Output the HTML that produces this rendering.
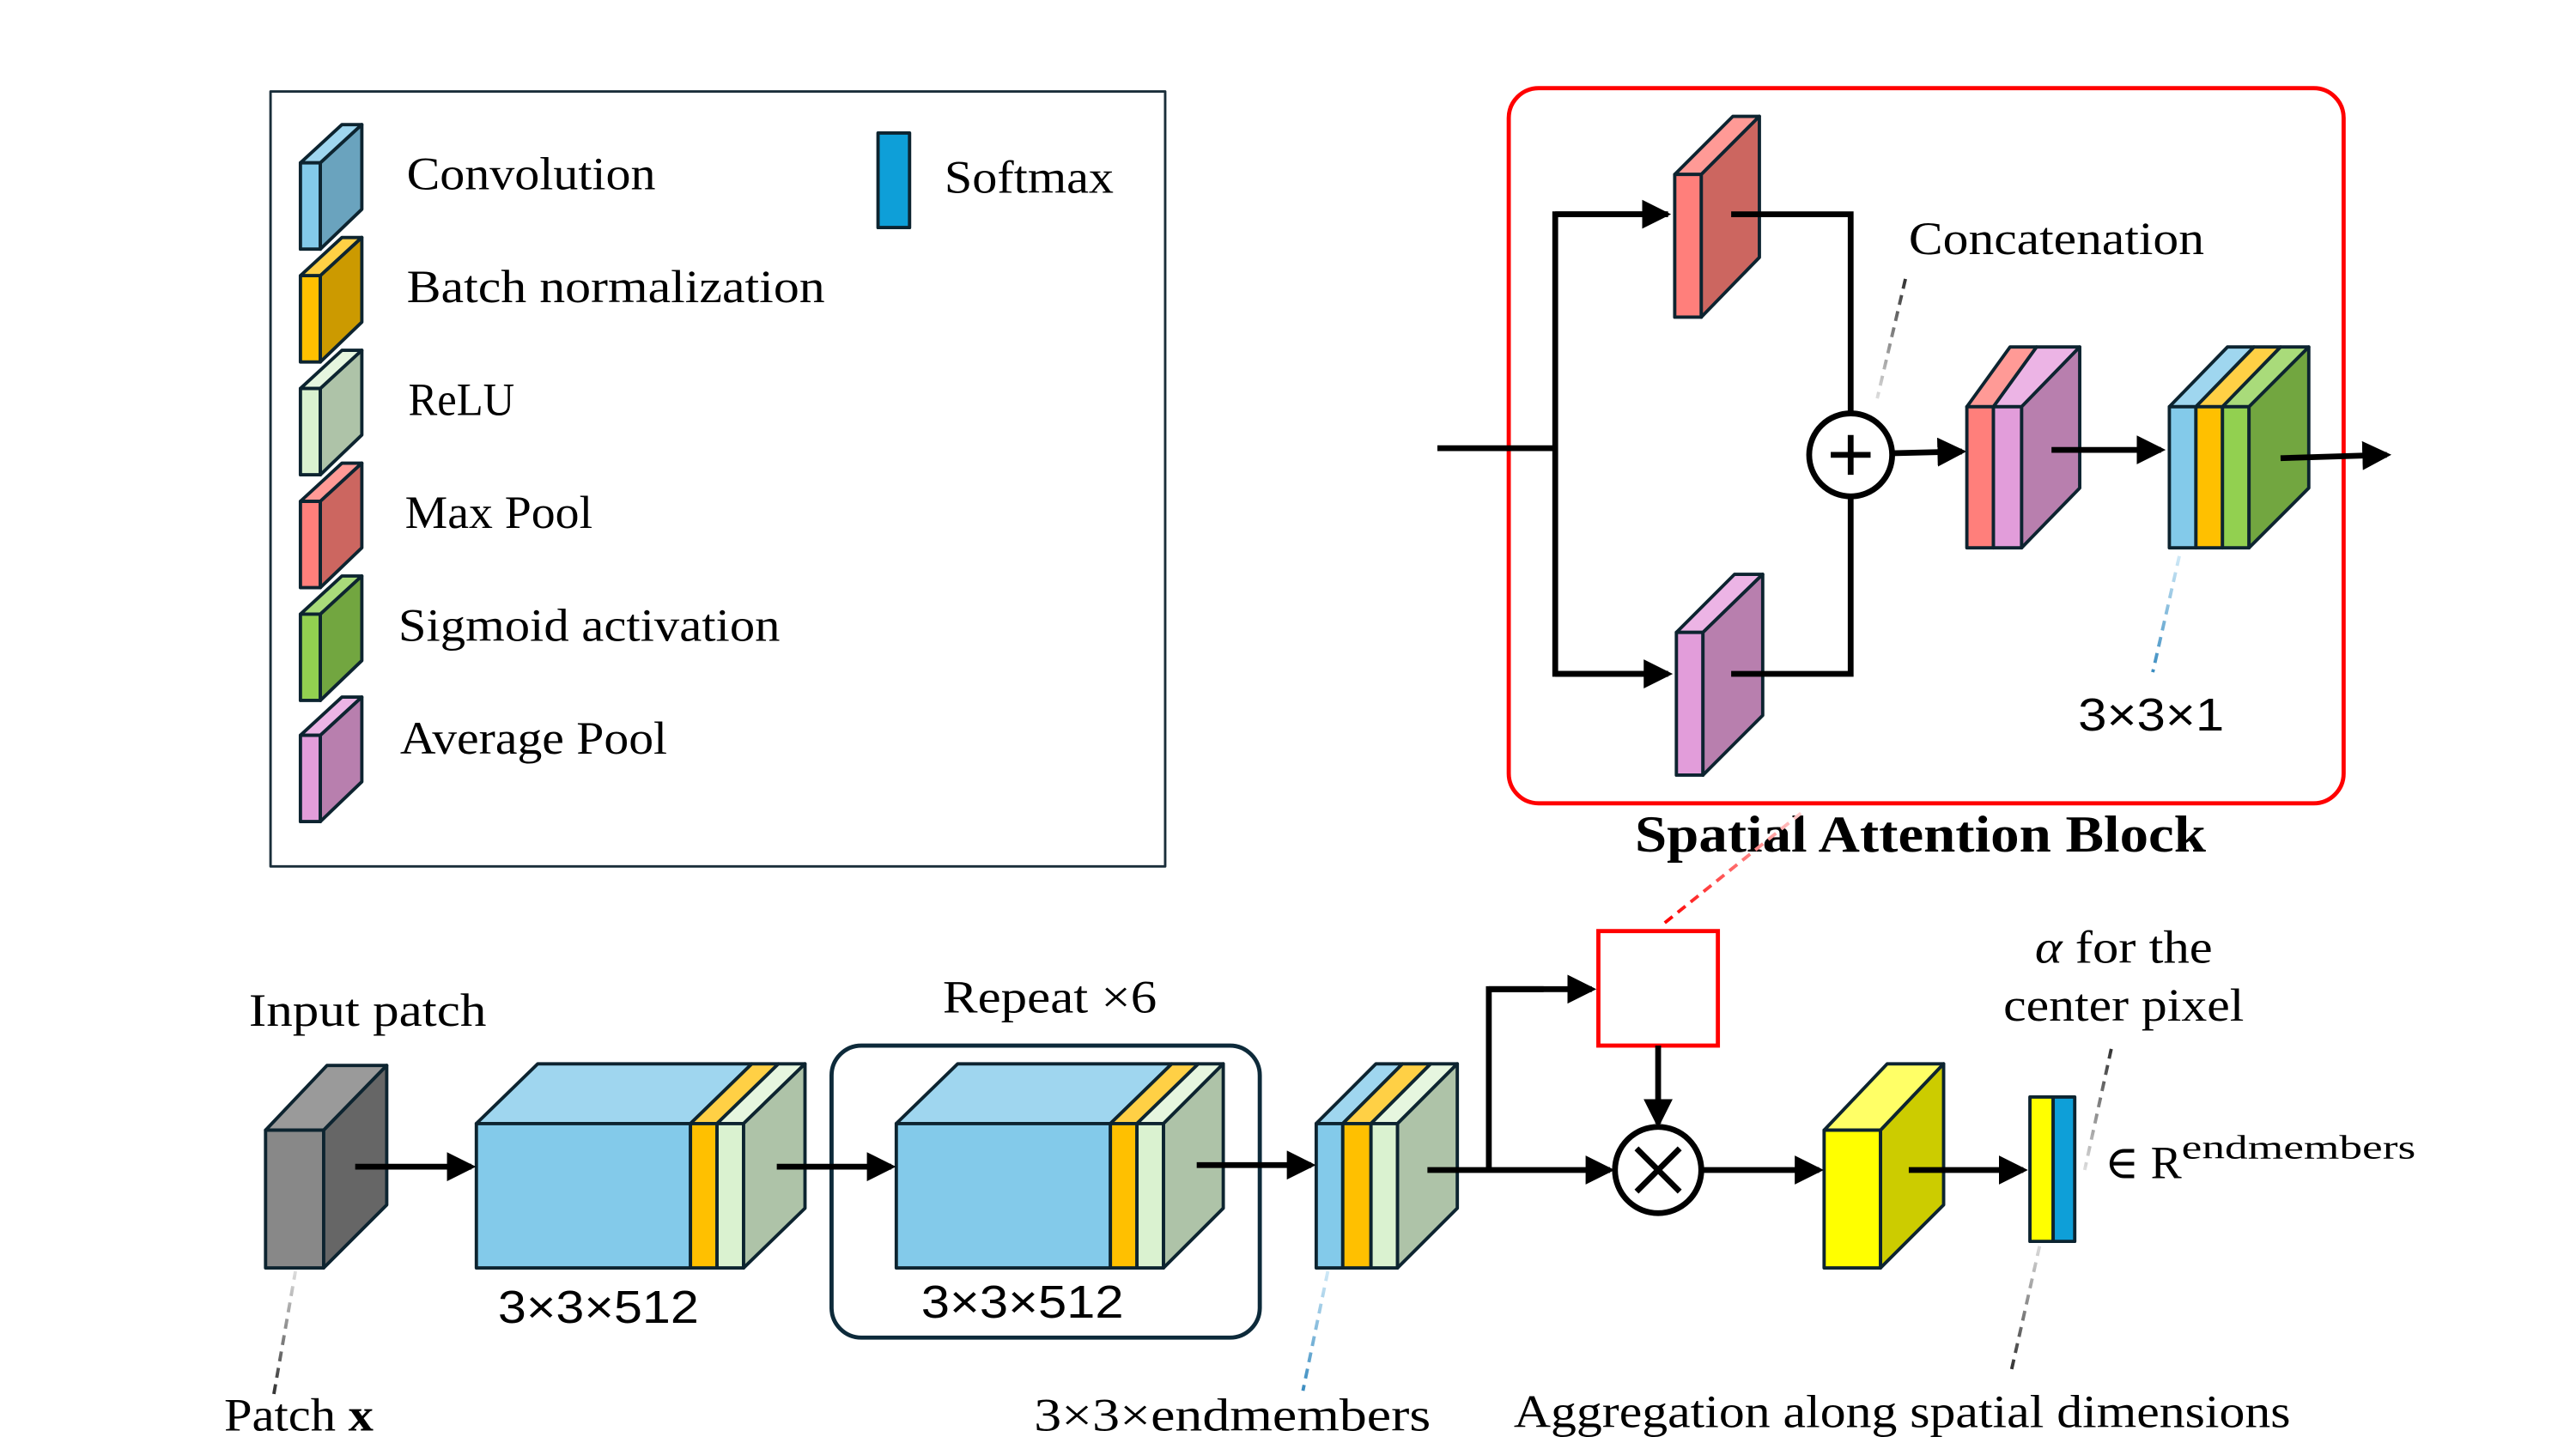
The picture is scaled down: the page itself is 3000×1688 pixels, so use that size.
<!DOCTYPE html>
<html><head><meta charset="utf-8"><style>
html,body{margin:0;padding:0;background:#fff;}
svg{display:block}
text{font-family:"Liberation Serif","DejaVu Serif",serif;fill:#000}
.s{font-family:"Liberation Sans","DejaVu Sans",sans-serif}
</style></head><body>
<svg width="3000" height="1688" viewBox="0 0 1552 873" xmlns="http://www.w3.org/2000/svg">
<defs>
<marker id="a" markerWidth="5" markerHeight="5" refX="4.2" refY="2.5" orient="auto" markerUnits="strokeWidth">
<path d="M0,0 L5,2.5 L0,5 z" fill="#000"/></marker>
<linearGradient id="gg" x1="0" y1="0" x2="0" y2="1"><stop offset="0" stop-color="#333"/><stop offset="1" stop-color="#ddd"/></linearGradient>
<linearGradient id="gb" x1="0" y1="0" x2="0" y2="1"><stop offset="0" stop-color="#cfe9f7"/><stop offset="1" stop-color="#3a8cc0"/></linearGradient>
<linearGradient id="gr" x1="0" y1="1" x2="1" y2="0"><stop offset="0" stop-color="#f00"/><stop offset="1" stop-color="#fcc"/></linearGradient>
</defs>
<g stroke="#0d2430" stroke-width="2" stroke-linejoin="round">
<rect x="163" y="55" width="539" height="467" fill="#fff" stroke="#1a2e3a" stroke-width="1.5"/>
<polygon points="181,98 206,75 218,75 193,98" fill="#9fd6ef"/><rect x="181" y="98" width="12" height="52" fill="#83caea"/><polygon points="193,98 218,75 218,126 193,150" fill="#6aa3be"/>
<polygon points="181,166 206,143 218,143 193,166" fill="#ffd045"/><rect x="181" y="166" width="12" height="52" fill="#ffc000"/><polygon points="193,166 218,143 218,194 193,218" fill="#cc9a00"/>
<polygon points="181,234 206,211 218,211 193,234" fill="#e6f6df"/><rect x="181" y="234" width="12" height="52" fill="#daf2d0"/><polygon points="193,234 218,211 218,262 193,286" fill="#aec3a8"/>
<polygon points="181,302 206,279 218,279 193,302" fill="#ff9a96"/><rect x="181" y="302" width="12" height="52" fill="#ff7f7b"/><polygon points="193,302 218,279 218,330 193,354" fill="#cc6660"/>
<polygon points="181,370 206,347 218,347 193,370" fill="#a9db7a"/><rect x="181" y="370" width="12" height="52" fill="#92d050"/><polygon points="193,370 218,347 218,398 193,422" fill="#72a640"/>
<polygon points="181,443 206,420 218,420 193,443" fill="#ecb4e5"/><rect x="181" y="443" width="12" height="52" fill="#e29dda"/><polygon points="193,443 218,420 218,471 193,495" fill="#b87fae"/>
<rect x="529" y="80" width="19" height="57" fill="#0e9fd8"/>
</g>
<g font-size="28">
<text x="245" y="114" textLength="150" lengthAdjust="spacingAndGlyphs">Convolution</text>
<text x="245" y="182" textLength="252" lengthAdjust="spacingAndGlyphs">Batch normalization</text>
<text x="246" y="250" textLength="64" lengthAdjust="spacingAndGlyphs">ReLU</text>
<text x="244" y="318" textLength="113" lengthAdjust="spacingAndGlyphs">Max Pool</text>
<text x="240" y="386" textLength="230" lengthAdjust="spacingAndGlyphs">Sigmoid activation</text>
<text x="241" y="454" textLength="161" lengthAdjust="spacingAndGlyphs">Average Pool</text>
<text x="569" y="116" textLength="102" lengthAdjust="spacingAndGlyphs">Softmax</text>
</g>

<rect x="909" y="53" width="503" height="431" rx="18" fill="none" stroke="#f00" stroke-width="2.5"/>
<text x="985" y="513" font-size="31" font-weight="bold" textLength="344" lengthAdjust="spacingAndGlyphs">Spatial Attention Block</text>
<g stroke="#000" stroke-width="3.5" fill="none">
<polyline points="866,270 937,270"/>
<polyline points="1005,129 937,129 937,406 1005,406" />
<line x1="937" y1="129" x2="1004" y2="129" marker-end="url(#a)"/>
<line x1="937" y1="406" x2="1005" y2="406" marker-end="url(#a)"/>
</g>
<g stroke="#0d2430" stroke-width="2" stroke-linejoin="round">
<polygon points="1009,105 1044,70 1060,70 1025,105" fill="#ff9a96"/><rect x="1009" y="105" width="16" height="86" fill="#ff7f7b"/><polygon points="1025,105 1060,70 1060,155 1025,191" fill="#cc6660"/>
<polygon points="1010,381 1045,346 1062,346 1026,381" fill="#ecb4e5"/><rect x="1010" y="381" width="16" height="86" fill="#e29dda"/><polygon points="1026,381 1062,346 1062,431 1026,467" fill="#b87fae"/>
</g>
<g stroke="#000" stroke-width="3.5" fill="none">
<polyline points="1043,129 1115,129 1115,249"/>
<polyline points="1043,406 1115,406 1115,299"/>
<circle cx="1115" cy="274" r="25" fill="#fff"/>
<line x1="1103" y1="274" x2="1127" y2="274"/><line x1="1115" y1="262" x2="1115" y2="286"/>
<line x1="1140" y1="273" x2="1182" y2="272" marker-end="url(#a)"/>
</g>
<g stroke="#0d2430" stroke-width="2" stroke-linejoin="round">
<polygon points="1185,245 1211,209 1227,209 1201,245" fill="#ff9a96"/>
<polygon points="1201,245 1227,209 1253,209 1218,245" fill="#ecb4e5"/>
<rect x="1185" y="245" width="16" height="85" fill="#ff7f7b"/><rect x="1201" y="245" width="17" height="85" fill="#e29dda"/>
<polygon points="1218,245 1253,209 1253,294 1218,330" fill="#b87fae"/>
<polygon points="1307,245 1342,209 1358,209 1323,245" fill="#9fd6ef"/>
<polygon points="1323,245 1358,209 1374,209 1339,245" fill="#ffd045"/>
<polygon points="1339,245 1374,209 1391,209 1355,245" fill="#a9db7a"/>
<rect x="1307" y="245" width="16" height="85" fill="#83caea"/><rect x="1323" y="245" width="16" height="85" fill="#ffc000"/><rect x="1339" y="245" width="16" height="85" fill="#92d050"/>
<polygon points="1355,245 1391,209 1391,294 1355,330" fill="#72a640"/>
</g>
<g stroke="#000" stroke-width="3.5" fill="none">
<line x1="1236" y1="271" x2="1302" y2="271" marker-end="url(#a)"/>
<line x1="1374" y1="276" x2="1438" y2="274" marker-end="url(#a)"/>
</g>
<text x="1150" y="153" font-size="28" textLength="178" lengthAdjust="spacingAndGlyphs">Concatenation</text>
<text x="1252" y="440" font-size="28" class="s" textLength="88" lengthAdjust="spacingAndGlyphs">3×3×1</text>
<line x1="1148" y1="168" x2="1131" y2="240" stroke="url(#gg)" stroke-width="2" stroke-dasharray="6,4"/>
<line x1="1313" y1="335" x2="1297" y2="405" stroke="url(#gb)" stroke-width="2" stroke-dasharray="6,4"/>

<text x="150" y="618" font-size="28" textLength="143" lengthAdjust="spacingAndGlyphs">Input patch</text>
<text x="568" y="610" font-size="28" textLength="129" lengthAdjust="spacingAndGlyphs">Repeat ×6</text>
<rect x="501" y="630" width="258" height="176" rx="18" fill="none" stroke="#0d2a3a" stroke-width="2.5"/>
<g stroke="#0d2430" stroke-width="2" stroke-linejoin="round">
<polygon points="160,681 197,642 233,642 195,681" fill="#9a9a9a"/><rect x="160" y="681" width="35" height="83" fill="#888"/><polygon points="195,681 233,642 233,726 195,764" fill="#666"/>
<polygon points="287,677 324,641 453,641 416,677" fill="#9fd6ef"/>
<polygon points="416,677 453,641 469,641 432,677" fill="#ffd045"/>
<polygon points="432,677 469,641 485,641 448,677" fill="#e6f6df"/>
<rect x="287" y="677" width="129" height="87" fill="#83caea"/><rect x="416" y="677" width="16" height="87" fill="#ffc000"/><rect x="432" y="677" width="16" height="87" fill="#daf2d0"/>
<polygon points="448,677 485,641 485,728 448,764" fill="#aec3a8"/>
<polygon points="540,677 577,641 706,641 669,677" fill="#9fd6ef"/>
<polygon points="669,677 706,641 722,641 685,677" fill="#ffd045"/>
<polygon points="685,677 722,641 737,641 701,677" fill="#e6f6df"/>
<rect x="540" y="677" width="129" height="87" fill="#83caea"/><rect x="669" y="677" width="16" height="87" fill="#ffc000"/><rect x="685" y="677" width="16" height="87" fill="#daf2d0"/>
<polygon points="701,677 737,641 737,728 701,764" fill="#aec3a8"/>
<polygon points="793,677 829,641 845,641 809,677" fill="#9fd6ef"/>
<polygon points="809,677 845,641 862,641 826,677" fill="#ffd045"/>
<polygon points="826,677 862,641 878,641 842,677" fill="#e6f6df"/>
<rect x="793" y="677" width="16" height="87" fill="#83caea"/><rect x="809" y="677" width="17" height="87" fill="#ffc000"/><rect x="826" y="677" width="16" height="87" fill="#daf2d0"/>
<polygon points="842,677 878,641 878,728 842,764" fill="#aec3a8"/>
<polygon points="1099,681 1137,641 1171,641 1133,681" fill="#ffff66"/><rect x="1099" y="681" width="34" height="83" fill="#ffff00"/><polygon points="1133,681 1171,641 1171,726 1133,764" fill="#cccc00"/>
<rect x="1223" y="661" width="14" height="87" fill="#ffff00"/><rect x="1237" y="661" width="13" height="87" fill="#0e9fd8"/>
</g>
<rect x="963" y="561" width="72" height="69" fill="#fff" stroke="#f00" stroke-width="2.5"/>
<g stroke="#000" stroke-width="3.5" fill="none">
<line x1="214" y1="703" x2="284" y2="703" marker-end="url(#a)"/>
<line x1="468" y1="703" x2="537" y2="703" marker-end="url(#a)"/>
<line x1="721" y1="702" x2="790" y2="702" marker-end="url(#a)"/>
<line x1="860" y1="705" x2="970" y2="705" marker-end="url(#a)"/>
<polyline points="897,705 897,596 930,596"/>
<line x1="897" y1="596" x2="959" y2="596" marker-end="url(#a)"/>
<line x1="999" y1="630" x2="999" y2="677" marker-end="url(#a)"/>
<circle cx="999" cy="705" r="26" fill="#fff"/>
<line x1="986" y1="692" x2="1012" y2="718"/><line x1="1012" y1="692" x2="986" y2="718"/>
<line x1="1025" y1="705" x2="1096" y2="705" marker-end="url(#a)"/>
<line x1="1150" y1="705" x2="1219" y2="705" marker-end="url(#a)"/>
</g>
<line x1="1003" y1="556" x2="1085" y2="490" stroke="url(#gr)" stroke-width="2" stroke-dasharray="6,4"/>
<text x="300" y="797" font-size="28" class="s" textLength="121" lengthAdjust="spacingAndGlyphs">3×3×512</text>
<text x="555" y="794" font-size="28" class="s" textLength="122" lengthAdjust="spacingAndGlyphs">3×3×512</text>
<text x="1226" y="580" font-size="28" textLength="107" lengthAdjust="spacingAndGlyphs"><tspan font-style="italic">α</tspan> for the</text>
<text x="1207" y="615" font-size="28" textLength="145" lengthAdjust="spacingAndGlyphs">center pixel</text>
<text x="1268" y="710" font-size="28">∈ R<tspan font-size="20" dy="-12" textLength="141" lengthAdjust="spacingAndGlyphs">endmembers</tspan></text>
<text x="135" y="862" font-size="28" textLength="90" lengthAdjust="spacingAndGlyphs">Patch <tspan font-weight="bold">x</tspan></text>
<text x="623" y="862" font-size="28" textLength="239" lengthAdjust="spacingAndGlyphs">3×3×endmembers</text>
<text x="912" y="860" font-size="28" textLength="468" lengthAdjust="spacingAndGlyphs">Aggregation along spatial dimensions</text>
<line x1="178" y1="766" x2="165" y2="840" stroke="url(#gg)" stroke-width="2" stroke-dasharray="6,4" transform="rotate(180 171.5 803)"/>
<line x1="800" y1="766" x2="785" y2="838" stroke="url(#gb)" stroke-width="2" stroke-dasharray="6,4"/>
<line x1="1272" y1="632" x2="1256" y2="705" stroke="url(#gg)" stroke-width="2" stroke-dasharray="6,4"/>
<line x1="1229" y1="750" x2="1212" y2="825" stroke="url(#gg)" stroke-width="2" stroke-dasharray="6,4" transform="rotate(180 1220.5 787.5)"/>
</svg>
</body></html>
